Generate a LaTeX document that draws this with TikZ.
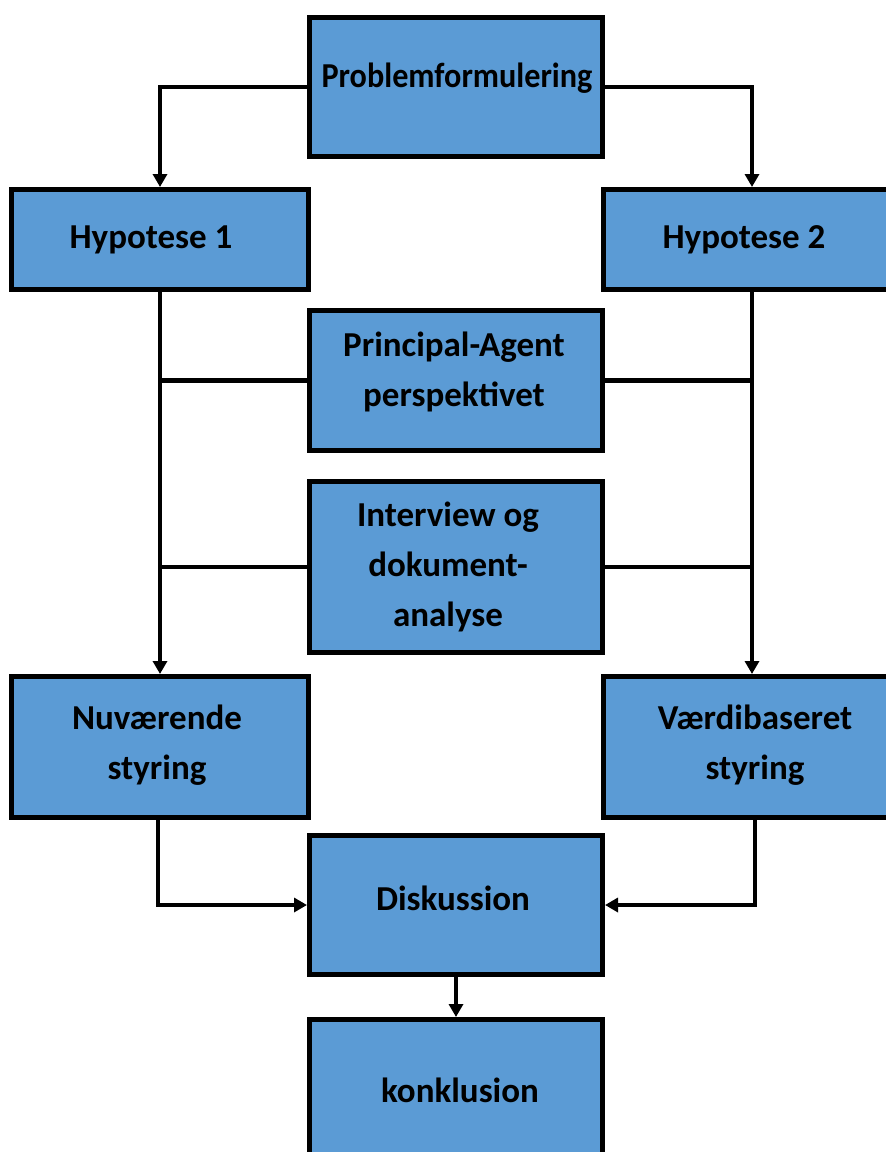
\documentclass[tikz,border=0pt]{standalone}
\usepackage{fontspec}
\setmainfont{Carlito}
\usetikzlibrary{arrows.meta}
\definecolor{boxblue}{RGB}{91,155,213}
\begin{document}
\begin{tikzpicture}[x=1pt,y=-1pt,
  box/.style={draw=black,line width=5pt,fill=boxblue,inner sep=0pt,minimum width=#1},
  box/.default=293pt,
  lbl/.style={font=\fontsize{35}{50}\selectfont\bfseries,align=center,inner sep=0pt,text=black},
  conn/.style={line width=4.3pt,draw=black},
  arr/.style={conn,-{Triangle[width=14pt,length=13pt]}}]
\useasboundingbox (0,0) rectangle (886,1152);
% boxes
\node[box,minimum height=139pt] (PF) at (456,87) {};
\node[box=297pt,minimum height=100pt] (H1) at (160,239.5) {};
\node[box=297pt,minimum height=100pt] (H2) at (752,239.5) {};
\node[box,minimum height=140pt] (PA) at (456,380.5) {};
\node[box,minimum height=171pt] (IV) at (456,567) {};
\node[box=297pt,minimum height=141pt] (NU) at (160,747) {};
\node[box=297pt,minimum height=141pt] (VB) at (752,747) {};
\node[box,minimum height=139pt] (DI) at (456,905) {};
\node[box,minimum height=137pt] (KO) at (456,1088) {};
% labels
\node[lbl] (tPF) at (457,78) {\scalebox{0.92}[1]{Problemformulering}};
\node[lbl] (tH1) at (151,240) {Hypotese 1};
\node[lbl] (tH2) at (744,240) {Hypotese 2};
\node[lbl] (tPA) at (454,372) {Principal-Agent\\perspektivet};
\node[lbl] (tIV) at (448,567) {Interview og\\dokument-\\analyse};
\node[lbl] (tNU) at (157,745) {Nuværende\\styring};
\node[lbl] (tVB) at (755,745) {Værdibaseret\\styring};
\node[lbl] (tDI) at (453,898) {Diskussion};
\node[lbl] (tKO) at (460,1090) {konklusion};
% connectors
\draw[arr] (PF.west) -| (H1.north);
\draw[arr] (PF.east) -| (H2.north);
\draw[arr] (H1.south) -- (NU.north);
\draw[arr] (H2.south) -- (VB.north);
\draw[conn] (PA.west) -- (PA.west -| H1.south);
\draw[conn] (PA.east) -- (PA.east -| H2.south);
\draw[conn] (IV.west) -- (IV.west -| H1.south);
\draw[conn] (IV.east) -- (IV.east -| H2.south);
\draw[arr] ([xshift=-2pt]NU.south) |- (DI.west);
\draw[arr] ([xshift=3pt]VB.south) |- (DI.east);
\draw[arr] (DI.south) -- (KO.north);
\end{tikzpicture}
\end{document}
